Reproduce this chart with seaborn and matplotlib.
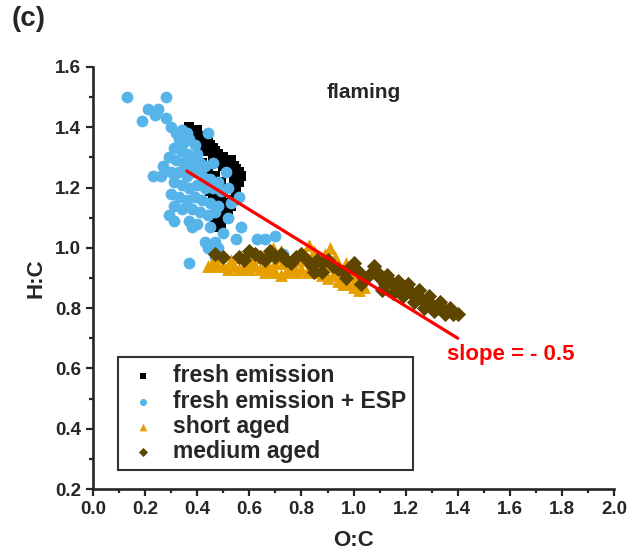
import numpy as np
import pandas as pd
import seaborn as sns
from matplotlib import pyplot as plt
from matplotlib.ticker import MultipleLocator

# fresh emission (black squares)
fresh_x = [0.37, 0.38, 0.39, 0.40, 0.41, 0.42, 0.43, 0.44, 0.45, 0.46, 0.47, 0.48, 0.49, 0.50,
           0.51, 0.52, 0.53, 0.54, 0.55, 0.56, 0.57, 0.56, 0.55,
           0.38, 0.40, 0.42, 0.44, 0.46, 0.48, 0.50, 0.52, 0.54, 0.53,
           0.55, 0.54, 0.53, 0.52, 0.51, 0.50, 0.49, 0.48, 0.47, 0.46, 0.48, 0.47, 0.46, 0.45,
           0.49, 0.50, 0.51, 0.49, 0.47, 0.44, 0.42]
fresh_y = [1.40, 1.39, 1.38, 1.39, 1.37, 1.36, 1.35, 1.35, 1.34, 1.33, 1.32, 1.31, 1.30, 1.30,
           1.29, 1.28, 1.29, 1.27, 1.26, 1.25, 1.24, 1.22, 1.21,
           1.37, 1.35, 1.33, 1.32, 1.30, 1.28, 1.27, 1.25, 1.23, 1.20,
           1.18, 1.16, 1.14, 1.12, 1.11, 1.10, 1.08, 1.07, 1.09, 1.11, 1.13, 1.15, 1.17, 1.19,
           1.17, 1.15, 1.20, 1.22, 1.24, 1.26, 1.28]

# fresh emission + ESP (blue circles)
esp_x = [0.13, 0.28, 0.21, 0.25, 0.24, 0.28, 0.19, 0.30, 0.32, 0.34, 0.36, 0.44,
         0.33, 0.35, 0.37, 0.39, 0.31, 0.34, 0.36, 0.38, 0.40, 0.29, 0.32, 0.35, 0.37,
         0.41, 0.43, 0.46, 0.27, 0.30, 0.33, 0.36, 0.39, 0.42, 0.45, 0.48, 0.51, 0.23,
         0.31, 0.34, 0.37, 0.40, 0.43, 0.46, 0.49, 0.52, 0.30, 0.33, 0.36, 0.39, 0.42,
         0.45, 0.48, 0.53, 0.56, 0.31, 0.34, 0.38, 0.41, 0.44, 0.47, 0.52, 0.29, 0.31,
         0.37, 0.40, 0.45, 0.50, 0.38, 0.43, 0.47, 0.45, 0.55, 0.57, 0.63, 0.66, 0.70,
         0.44, 0.48, 0.37, 0.73, 0.47, 0.26]
esp_y = [1.50, 1.50, 1.46, 1.46, 1.44, 1.43, 1.42, 1.40, 1.38, 1.39, 1.38, 1.38,
         1.36, 1.35, 1.36, 1.34, 1.33, 1.32, 1.31, 1.30, 1.31, 1.30, 1.29, 1.28, 1.27,
         1.28, 1.27, 1.28, 1.27, 1.25, 1.25, 1.24, 1.25, 1.24, 1.23, 1.22, 1.25, 1.24,
         1.22, 1.21, 1.20, 1.21, 1.20, 1.20, 1.19, 1.20, 1.18, 1.17, 1.16, 1.17, 1.16,
         1.15, 1.14, 1.15, 1.17, 1.14, 1.13, 1.13, 1.12, 1.11, 1.12, 1.10, 1.11, 1.09,
         1.09, 1.08, 1.07, 1.05, 1.07, 1.02, 1.02, 1.00, 1.03, 1.07, 1.03, 1.03, 1.04,
         1.00, 1.00, 0.95, 0.98, 0.97, 1.24]

# short aged (orange triangles)
short_x = [0.44, 0.46, 0.48, 0.50, 0.52, 0.54, 0.56, 0.58, 0.60, 0.62, 0.64, 0.66, 0.68,
           0.70, 0.72, 0.74, 0.76, 0.78, 0.80, 0.82, 0.84, 0.86, 0.88, 0.90, 0.92, 0.94,
           0.96, 0.98, 1.00, 1.02, 1.04,
           0.47, 0.53, 0.57, 0.61, 0.63, 0.65, 0.67, 0.69, 0.71, 0.73, 0.75, 0.77, 0.79,
           0.81, 0.83, 0.85, 0.87, 0.89, 0.91, 0.93, 0.95, 0.97, 0.99, 1.01, 0.90, 0.70,
           0.66, 0.59, 0.72]
short_y = [0.94, 0.95, 0.94, 0.94, 0.93, 0.94, 0.93, 0.94, 0.93, 0.94, 0.93, 0.92, 0.93,
           0.92, 0.91, 0.92, 0.93, 0.92, 0.93, 0.92, 0.93, 0.92, 0.91, 0.90, 0.91, 0.89,
           0.88, 0.88, 0.87, 0.86, 0.87,
           0.97, 0.96, 0.97, 0.96, 0.98, 0.97, 0.99, 1.00, 0.97, 0.95, 0.96, 0.94, 0.96,
           0.98, 1.01, 0.99, 0.97, 0.98, 1.00, 0.97, 0.93, 0.95, 0.91, 0.90, 0.94, 0.95,
           0.95, 0.95, 0.99]

# medium aged (brown diamonds)
medium_x = [0.47, 0.50, 0.56, 0.60, 0.62, 0.64, 0.66, 0.70, 0.72, 0.74, 0.76, 0.78, 0.80,
            0.82, 0.84, 0.86, 0.88, 0.90, 0.92, 0.94, 0.96, 0.98, 1.00, 1.02, 1.04, 1.06,
            1.08, 1.10, 1.12, 1.14, 1.16, 1.18, 1.20, 1.22, 1.24, 1.26, 1.28, 1.30, 1.32,
            1.34, 1.36, 1.38, 1.40,
            1.09, 1.13, 1.17, 1.21, 1.25, 1.29, 1.33, 1.37, 1.11, 1.15, 1.19, 1.23, 1.27,
            1.31, 1.35, 0.85, 0.88, 0.97, 1.03, 0.68, 0.58]
medium_y = [0.98, 0.97, 0.97, 0.99, 0.98, 0.97, 0.96, 0.97, 0.98, 0.96, 0.95, 0.97, 0.98,
            0.96, 0.94, 0.96, 0.95, 0.96, 0.94, 0.93, 0.92, 0.93, 0.95, 0.92, 0.90, 0.91,
            0.94, 0.90, 0.88, 0.89, 0.87, 0.86, 0.87, 0.85, 0.84, 0.83, 0.82, 0.81, 0.80,
            0.80, 0.79, 0.78, 0.78,
            0.92, 0.91, 0.89, 0.88, 0.86, 0.84, 0.82, 0.80, 0.86, 0.85, 0.84, 0.82, 0.80,
            0.79, 0.78, 0.92, 0.92, 0.90, 0.88, 0.99, 0.96]

# slope = -0.5 reference line
line_x = [0.36, 1.40]
line_y = [1.255, 0.70]

sns.set_style("ticks")
plt.rcParams['font.family'] = ['Liberation Sans', 'DejaVu Sans']
plt.rcParams['font.weight'] = 'bold'
plt.rcParams['axes.labelweight'] = 'bold'

fig = plt.figure(figsize=(6.28, 5.56), dpi=100)
ax = fig.add_axes([0.148, 0.1205, 0.830, 0.759])

sns.scatterplot(x=fresh_x, y=fresh_y, marker='s', color='black', s=55, linewidth=0,
                label='fresh emission', ax=ax)
sns.scatterplot(x=esp_x, y=esp_y, marker='o', color='#56B4E9', s=72, linewidth=0,
                label='fresh emission + ESP', ax=ax)
sns.scatterplot(x=short_x, y=short_y, marker='^', color='#E69F00', s=85, linewidth=0,
                label='short aged', ax=ax)
sns.scatterplot(x=medium_x, y=medium_y, marker='D', color='#5E4500', s=60, linewidth=0,
                label='medium aged', ax=ax)

ax.plot(line_x, line_y, color='red', lw=2.3)
ax.text(1.36, 0.645, 'slope = - 0.5', color='red', fontsize=16, fontweight='bold',
        va='center', ha='left')
ax.text(1.04, 1.515, 'flaming', fontsize=15, fontweight='bold', ha='center', va='center')

ax.set_xlim(0, 2.0)
ax.set_ylim(0.2, 1.6)
ax.xaxis.set_minor_locator(MultipleLocator(0.1))
ax.yaxis.set_minor_locator(MultipleLocator(0.1))
ax.set_xticks(np.arange(0, 2.01, 0.2))
ax.set_xticklabels([f"{v:.1f}" for v in np.arange(0, 2.01, 0.2)])
ax.set_yticks(np.arange(0.2, 1.61, 0.2))
ax.set_yticklabels([f"{v:.1f}" for v in np.arange(0.2, 1.61, 0.2)])
ax.tick_params(which='major', length=5, width=1.6, labelsize=13.5, direction='out')
ax.tick_params(which='minor', length=3, width=1.6, direction='out')
for lab in ax.get_xticklabels() + ax.get_yticklabels():
    lab.set_fontweight('bold')

for side in ['top', 'right']:
    ax.spines[side].set_visible(False)
for side in ['left', 'bottom']:
    ax.spines[side].set_linewidth(1.9)

ax.set_xlabel('O:C', fontsize=16, fontweight='bold', labelpad=9)
ax.set_ylabel('H:C', fontsize=16, fontweight='bold', labelpad=6)

leg = ax.legend(loc='lower left', bbox_to_anchor=(0.048, 0.045), fontsize=16.5,
                markerscale=0.6, frameon=True, fancybox=False, handletextpad=0.5,
                borderpad=0.3, labelspacing=0.1, handlelength=1.6, borderaxespad=0)
leg.get_frame().set_edgecolor('black')
leg.get_frame().set_linewidth(1.5)
for t in leg.get_texts():
    t.set_fontweight('bold')

fig.text(0.018, 0.99, '(c)', fontsize=20, fontweight='bold', va='top', ha='left')

fig.savefig('out.png', dpi=100)
